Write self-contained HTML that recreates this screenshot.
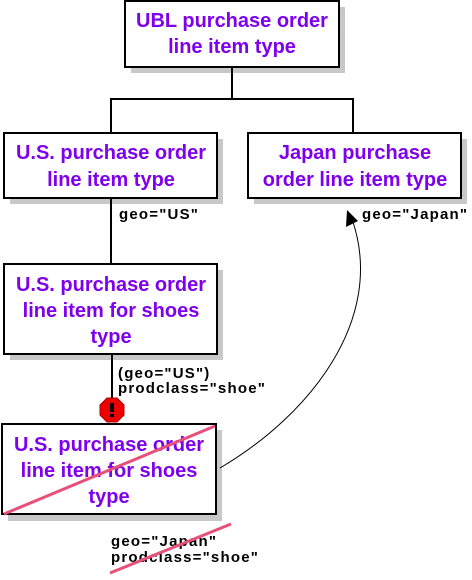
<!DOCTYPE html>
<html><head><meta charset="utf-8"><style>
html,body{margin:0;padding:0;background:#fff;}
svg{display:block;}
.t{font-family:"Liberation Sans",Arial,sans-serif;font-weight:bold;font-size:20px;fill:#7f00ee;text-anchor:middle;}
.l{font-family:"Liberation Sans",Arial,sans-serif;font-weight:bold;font-size:15px;letter-spacing:1.2px;fill:#000;}
</style></head><body>
<svg width="472" height="580" viewBox="0 0 472 580" xmlns="http://www.w3.org/2000/svg">
<g fill="#c8c8c8">
<rect x="131" y="7" width="214" height="66"/>
<rect x="10" y="139" width="213" height="65"/>
<rect x="254" y="139" width="213" height="65"/>
<rect x="10" y="270" width="213" height="90"/>
<rect x="8" y="430" width="214" height="91"/>
</g>
<g stroke="#000" stroke-width="2" fill="none">
<line x1="232" y1="67" x2="232" y2="99"/>
<polyline points="111,133 111,99 353,99 353,133"/>
<line x1="111" y1="198" x2="111" y2="264"/>
<line x1="112" y1="354" x2="112" y2="399"/>
</g>
<g stroke="#000" stroke-width="2" fill="#fff">
<rect x="125" y="1" width="214" height="66"/>
<rect x="4" y="133" width="213" height="65"/>
<rect x="248" y="133" width="213" height="65"/>
<rect x="4" y="264" width="213" height="90"/>
<rect x="2" y="424" width="214" height="90"/>
</g>
<text class="t" x="232" y="27">UBL purchase order</text>
<text class="t" x="232" y="53">line item type</text>
<text class="t" x="111" y="159">U.S. purchase order</text>
<text class="t" x="111" y="186">line item type</text>
<text class="t" x="355" y="159">Japan purchase</text>
<text class="t" x="355" y="186">order line item type</text>
<text class="t" x="111" y="291">U.S. purchase order</text>
<text class="t" x="111" y="317">line item for shoes</text>
<text class="t" x="111" y="343">type</text>
<text class="t" x="109" y="451">U.S. purchase order</text>
<text class="t" x="109" y="477">line item for shoes</text>
<text class="t" x="109" y="503">type</text>
<text class="l" x="119" y="219">geo="US"</text>
<text class="l" x="362" y="219">geo="Japan"</text>
<text class="l" x="118" y="378">(geo="US")</text>
<text class="l" x="118" y="393">prodclass="shoe"</text>
<text class="l" x="111" y="546">geo="Japan"</text>
<text class="l" x="111" y="562">prodclass="shoe"</text>
<path d="M220,468 C310,415 385,320 353,222" stroke="#000" stroke-width="1" fill="none"/>
<polygon points="347,210 346,227 358,221" fill="#000"/>
<polygon points="107,398 117,398 124,405 124,415 117,422 107,422 100,415 100,405" fill="#ee0000" stroke="#aa0000" stroke-width="1"/>
<rect x="110" y="403" width="4" height="9" fill="#000"/>
<rect x="110" y="414" width="4" height="3" fill="#000"/>
<line x1="4" y1="514" x2="215" y2="426" stroke="#e8507a" stroke-width="3"/>
<line x1="110" y1="573" x2="231" y2="524" stroke="#e8507a" stroke-width="3"/>
</svg>
</body></html>
